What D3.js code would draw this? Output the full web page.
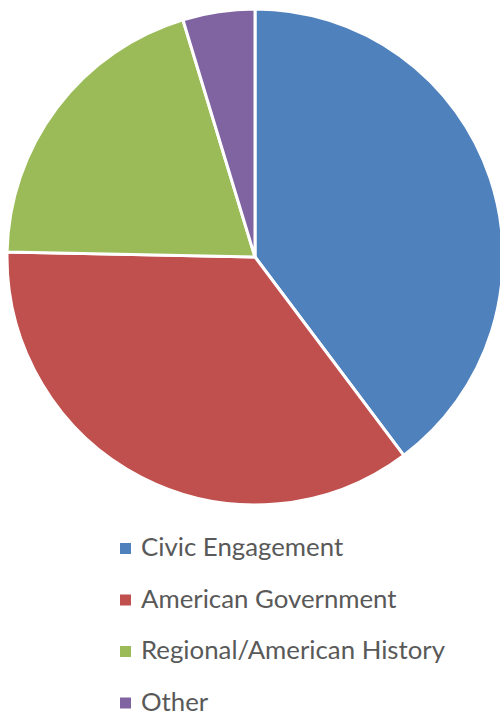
<!DOCTYPE html>
<html>
<head>
<meta charset="utf-8">
<script src="https://cdn.jsdelivr.net/npm/d3@7"></script>
<style>
  body { margin: 0; background: #fff; }
  svg { display: block; }
</style>
</head>
<body>
<div id="chart"></div>
<script>
// chart data
var categories = ["Civic Engagement", "American Government", "Regional/American History", "Other"];
var values = [39.8, 35.6, 20.0, 4.7];
var colors = ["#4F81BD", "#C0504D", "#9BBB59", "#8064A2"];

var width = 500, height = 713;
var cx = 255, cy = 257, radius = 248;

var svg = d3.select("#chart")
    .append("svg")
    .attr("width", width)
    .attr("height", height);

var pie = d3.pie()
    .sort(null)
    .value(d => d);

var arc = d3.arc()
    .innerRadius(0)
    .outerRadius(radius);

var g = svg.append("g")
    .attr("transform", `translate(${cx},${cy})`);

g.selectAll("path")
    .data(pie(values))
    .enter().append("path")
    .attr("d", arc)
    .attr("fill", (d, i) => colors[i])
    .attr("stroke", "#fff")
    .attr("stroke-width", 3)
    .attr("stroke-linejoin", "round");

// legend
var legend = svg.selectAll(".legend")
    .data(categories)
    .enter().append("g")
    .attr("class", "legend")
    .attr("transform", (d, i) => `translate(120,${556 + i * 51.5})`);

legend.append("rect")
    .attr("x", 0)
    .attr("y", -13)
    .attr("width", 11)
    .attr("height", 11)
    .attr("fill", (d, i) => colors[i]);

legend.append("text")
    .attr("x", 21)
    .attr("y", 0)
    .style("font-family", "Lato, 'Open Sans', sans-serif")
    .style("font-size", "25.8px")
    .style("fill", "#595959")
    .text(d => d);
</script>
</body>
</html>
